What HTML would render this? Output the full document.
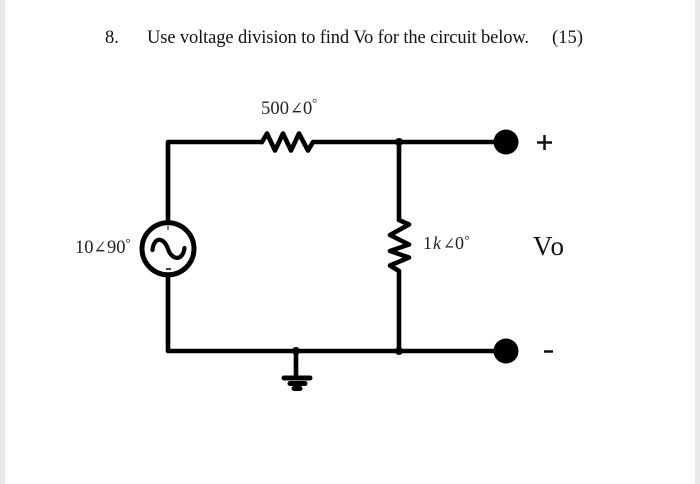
<!DOCTYPE html>
<html>
<head>
<meta charset="utf-8">
<style>
html,body{margin:0;padding:0;background:#fff}
svg{display:block;filter:blur(0.35px)}
</style>
</head>
<body>
<svg width="700" height="484" viewBox="0 0 700 484" xmlns="http://www.w3.org/2000/svg">
<rect width="700" height="484" fill="#fff"/>
<rect x="0" y="0" width="5" height="484" fill="#e9e9e9"/>
<rect x="695" y="0" width="5" height="484" fill="#e9e9e9"/>

<g font-family="'Liberation Serif',serif" font-size="18.5" fill="#111">
<text x="105" y="43">8.</text>
<text x="147" y="43" textLength="382" lengthAdjust="spacing">Use voltage division to find Vo for the circuit below.</text>
<text x="552" y="43" textLength="31" lengthAdjust="spacing">(15)</text>
</g>

<g fill="none" stroke="#000" stroke-width="4.6" stroke-linejoin="round" stroke-linecap="round">
<path d="M168 222V142H262"/>
<path d="M262 142L267 133.500L275 150.500L283 133.500L291 150.500L299 133.500L308 150.500L313 142H399"/>
<path d="M399 142H506"/>
<path d="M399 142V220"/>
<path d="M399 220L409 224.500L390 235L409 244.500L390 251L409 257.500L390 265.500L399 271V351"/>
<path d="M168 276V351H506"/>
<path d="M296 351V378"/>
</g>
<g stroke="#000" stroke-linecap="round" fill="none">
<path d="M284 378H310" stroke-width="5"/>
<path d="M290 383.500H305" stroke-width="5"/>
<path d="M294 388.500H300" stroke-width="5"/>
</g>

<circle cx="168" cy="248.800" r="26" fill="#fff" stroke="#000" stroke-width="5"/>
<path d="M152.500 250C154 236 164 237 168 249C172 261 183 261 184.500 248" fill="none" stroke="#000" stroke-width="4.200" stroke-linecap="round"/>
<path d="M168 226V230" stroke="#000" stroke-width="1"/>
<path d="M166 269H171" stroke="#000" stroke-width="1.500"/>

<circle cx="399" cy="142" r="4" fill="#000"/>
<circle cx="399" cy="351" r="4" fill="#000"/>
<circle cx="296" cy="351" r="4" fill="#000"/>
<circle cx="506" cy="142" r="12.500" fill="#000"/>
<circle cx="506" cy="351" r="12.500" fill="#000"/>

<g font-family="'Liberation Serif','DejaVu Serif',serif" fill="#222">
<text x="261" y="114" font-size="18.500" textLength="28" lengthAdjust="spacing">500</text>
<text x="290" y="114" font-size="17" textLength="13" lengthAdjust="spacingAndGlyphs">∠</text>
<text x="303" y="114" font-size="18.500">0</text>
<text x="312" y="107" font-size="13">°</text>

<text x="75" y="253" font-size="18.500">10</text>
<text x="93.500" y="253" font-size="17" textLength="13" lengthAdjust="spacingAndGlyphs">∠</text>
<text x="107" y="253" font-size="18.500">90</text>
<text x="125.500" y="247" font-size="13">°</text>

<text x="423" y="249" font-size="18">1</text>
<text x="433" y="249" font-size="18" font-style="italic">k</text>
<text x="443" y="249" font-size="16" textLength="12" lengthAdjust="spacingAndGlyphs">∠</text>
<text x="455" y="249" font-size="18">0</text>
<text x="464.500" y="244" font-size="13">°</text>

<text x="533" y="255" font-size="27" fill="#111" textLength="31" lengthAdjust="spacing">Vo</text>
</g>
<path d="M544.500 135V150M537 142.500H552" stroke="#111" stroke-width="2.500" fill="none"/>
<path d="M544 351.500H553" stroke="#111" stroke-width="2.500" fill="none"/>
</svg>
</body>
</html>
